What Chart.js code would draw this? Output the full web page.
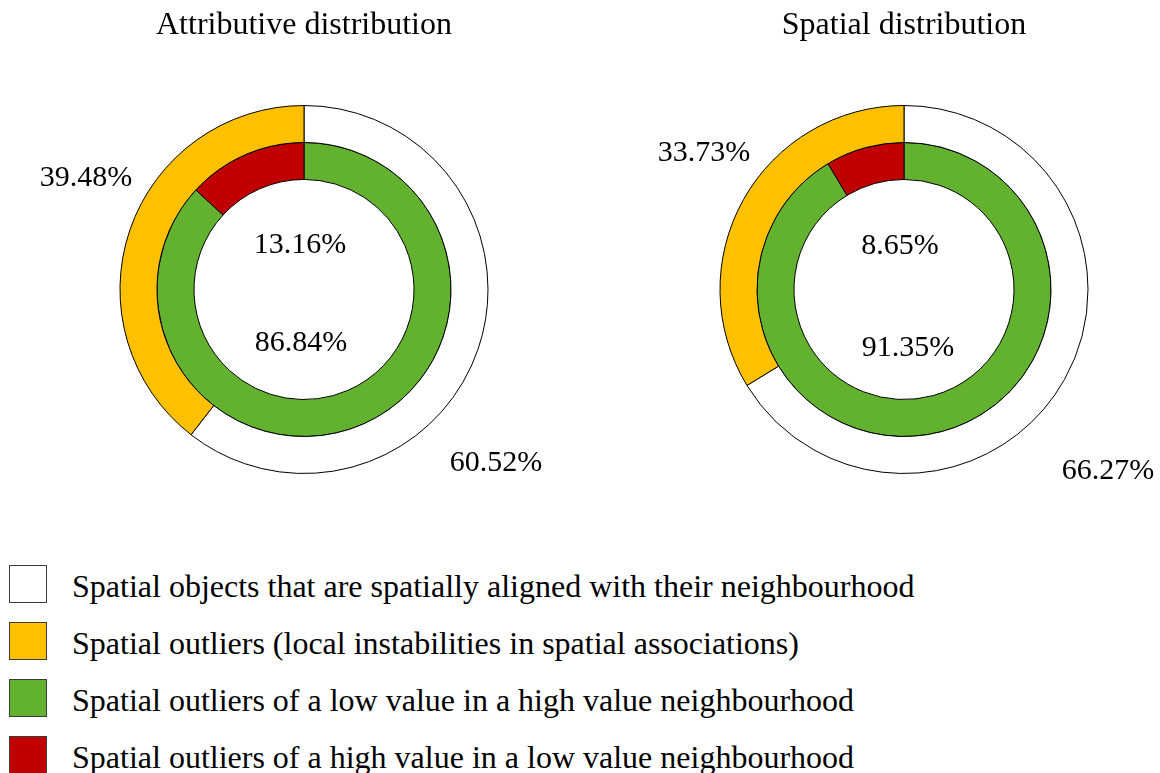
<!DOCTYPE html>
<html>
<head>
<meta charset="utf-8">
<script src="https://cdn.jsdelivr.net/npm/chart.js@4/dist/chart.umd.min.js"></script>
<style>
  html, body { margin: 0; padding: 0; background: #fff; }
  #wrap { position: relative; width: 1160px; height: 773px; overflow: hidden; font-family: 'Liberation Serif', 'Times New Roman', serif; }
  .pane { position: absolute; top: 0; height: 520px; }
  #paneA { left: 0; width: 608px; }
  #paneB { left: 648px; width: 512px; }
  #legend { position: absolute; left: 9px; top: 565px; margin: 0; padding: 0; list-style: none; }
  #legend li { height: 57px; display: flex; align-items: flex-start; }
  #legend .sw { width: 36px; height: 36px; border: 1px solid #3c3c3c; flex: none; }
  #legend .tx { margin-left: 25px; margin-top: 2px; font-size: 32px; line-height: 38px; color: #000; white-space: nowrap; }
</style>
</head>
<body>
<div id="wrap">
  <div class="pane" id="paneA"><canvas id="attr"></canvas></div>
  <div class="pane" id="paneB"><canvas id="spat"></canvas></div>
  <ul id="legend"></ul>
</div>
<script>
// Categories and colours
const categories = [
  'Spatial objects that are spatially aligned with their neighbourhood',
  'Spatial outliers (local instabilities in spatial associations)',
  'Spatial outliers of a low value in a high value neighbourhood',
  'Spatial outliers of a high value in a low value neighbourhood'
];
const categoryColors = ['#FFFFFF', '#FFC000', '#63B22F', '#C00000'];

// Chart titles
const titles = ['Attributive distribution', 'Spatial distribution'];

// Outer ring: aligned vs. outliers (%)
const attrOuter = [60.52, 39.48];
const spatOuter = [66.27, 33.73];
// Inner ring: low-in-high vs. high-in-low outliers (%)
const attrInner = [86.84, 13.16];
const spatInner = [91.35, 8.65];

// Label anchor (centre x, baseline y) relative to the doughnut centre, per ring and slice
const attrLabelOffsets = { outer: [[192, 181], [-218, -104]], inner: [[-3, 61], [-4, -37]] };
const spatLabelOffsets = { outer: [[204, 189], [-200, -129]], inner: [[4, 66], [-4, -36]] };

const FONT = "'Liberation Serif', 'Times New Roman', serif";

// Draws the title above and the percentage text for each slice
const textPlugin = {
  id: 'ringText',
  afterDraw(chart, args, opts) {
    const ctx = chart.ctx;
    const arc = chart.getDatasetMeta(0).data[0];
    const cx = arc.x, cy = arc.y;
    ctx.save();
    ctx.fillStyle = '#000';
    ctx.textAlign = 'center';
    ctx.textBaseline = 'alphabetic';
    ctx.font = '32px ' + FONT;
    ctx.fillText(opts.title, cx, 34);
    ctx.font = '30px ' + FONT;
    const rings = ['outer', 'inner'];
    chart.data.datasets.forEach((ds, di) => {
      ds.data.forEach((v, i) => {
        const off = opts.offsets[rings[di]][i];
        ctx.fillText(v.toFixed(2) + '%', cx + off[0], cy + off[1]);
      });
    });
    ctx.restore();
  }
};

function makeChart(id, title, outer, inner, offsets) {
  return new Chart(document.getElementById(id), {
    type: 'doughnut',
    data: {
      labels: ['aligned', 'outliers'],
      datasets: [
        { data: outer, backgroundColor: [categoryColors[0], categoryColors[1]], borderColor: '#000', borderWidth: 1 },
        { data: inner, backgroundColor: [categoryColors[2], categoryColors[3]], borderColor: '#000', borderWidth: 1 }
      ]
    },
    options: {
      responsive: true,
      maintainAspectRatio: false,
      animation: false,
      events: [],
      cutout: '59.8%',
      layout: { padding: { top: 105, bottom: 46, left: 0, right: 0 } },
      plugins: {
        legend: { display: false },
        tooltip: { enabled: false },
        title: { display: false },
        ringText: { title: title, offsets: offsets }
      }
    },
    plugins: [textPlugin]
  });
}

makeChart('attr', titles[0], attrOuter, attrInner, attrLabelOffsets);
makeChart('spat', titles[1], spatOuter, spatInner, spatLabelOffsets);

// Legend
const legend = document.getElementById('legend');
categories.forEach((name, i) => {
  const li = document.createElement('li');
  const sw = document.createElement('span');
  sw.className = 'sw';
  sw.style.background = categoryColors[i];
  const tx = document.createElement('span');
  tx.className = 'tx';
  tx.textContent = name;
  li.appendChild(sw);
  li.appendChild(tx);
  legend.appendChild(li);
});
</script>
</body>
</html>
